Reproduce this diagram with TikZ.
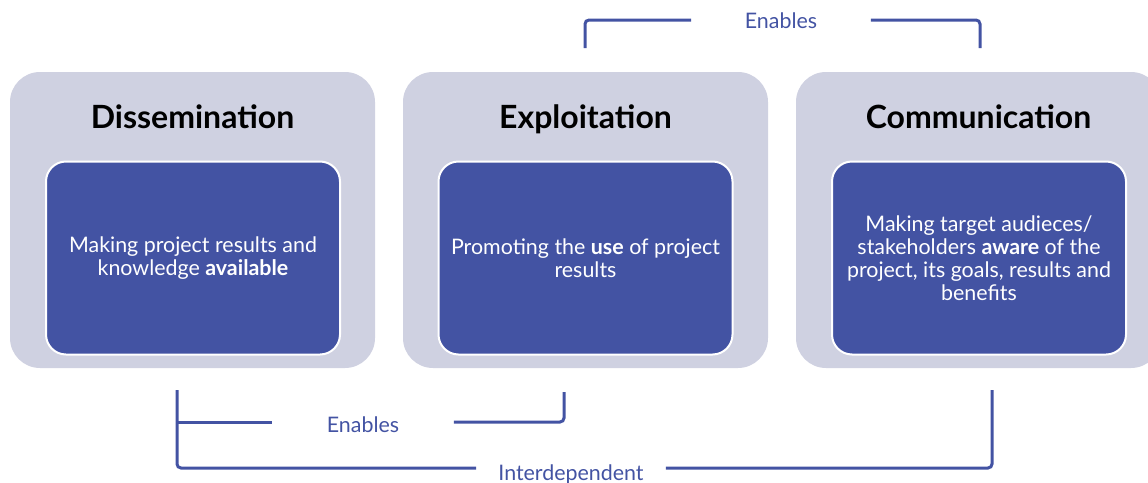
\documentclass[tikz,border=0pt]{standalone}
\usepackage{fontspec}
\setmainfont{Lato}
\usetikzlibrary{positioning}
\definecolor{panel}{HTML}{CFD1E1}
\definecolor{core}{HTML}{4353A3}
\newcommand{\dropby}[2]{\raisebox{-#1}[\height][\depth]{#2}}
\tikzset{
  outerbox/.style={fill=panel, rounded corners=30pt, minimum width=365pt,
    minimum height=296pt, inner sep=0pt},
  innerbox/.style={fill=core, draw=white, line width=2pt, rounded corners=20pt,
    minimum width=294pt, minimum height=193pt, inner sep=0pt, text=white,
    align=center, font=\fontsize{21.4}{23}\selectfont},
  heading/.style={font=\fontsize{32}{38}\selectfont\bfseries, anchor=base},
  link/.style={draw=core, line width=3pt, rounded corners=4pt},
  linklabel/.style={text=core, font=\fontsize{21.4}{24}\selectfont, inner ysep=0pt}
}

\begin{document}
\begin{tikzpicture}[x=1pt,y=-1pt]
\useasboundingbox (0,0) rectangle (1148,482);
\node[outerbox] (dissem) at (192.5,220) {};
\node[outerbox] (exploit) at (585.5,220) {};
\node[outerbox] (commun) at (978.5,220) {};
\node[heading] (dissemhead) at (192.5,128) {Dissemination};
\node[heading] (exploithead) at (585.5,128) {Exploitation};
\node[heading] (communhead) at (978.5,128) {Communication};
\node[innerbox] (dissemtxt) at (193,258) {Making project results and\\knowledge \textbf{available}};
\node[innerbox] (exploittxt) at (585.5,258) {Promoting the \textbf{use} of project\\results};
\node[innerbox] (communtxt) at (979,258) {Making target audieces/\\stakeholders \textbf{aware} of the\\project, its goals, results and\\benefits};
\node[linklabel, inner xsep=53.5pt] (enabtop) at (781,20) {\dropby{1pt}{Enables}};
\node[linklabel, inner xsep=54.5pt] (enabbot) at (363,422) {\dropby{3pt}{Enables}};
\node[linklabel, inner xsep=22pt] (interdep) at (571,468) {\dropby{6pt}{Interdependent}};
\coordinate (etl) at (585,48);
\coordinate (etr) at (980,48);
\coordinate (dl) at (177,390);
\coordinate (er) at (564,392);
\coordinate (ir) at (992,390);
\draw[link] (etl) |- (enabtop.west);
\draw[link] (enabtop.east) -| (etr);
\draw[link] (dl) |- (interdep.west);
\draw[link] (dl |- enabbot) -- (enabbot.west);
\draw[link] (enabbot.east) -| (er);
\draw[link] (interdep.east) -| (ir);
\end{tikzpicture}
\end{document}
